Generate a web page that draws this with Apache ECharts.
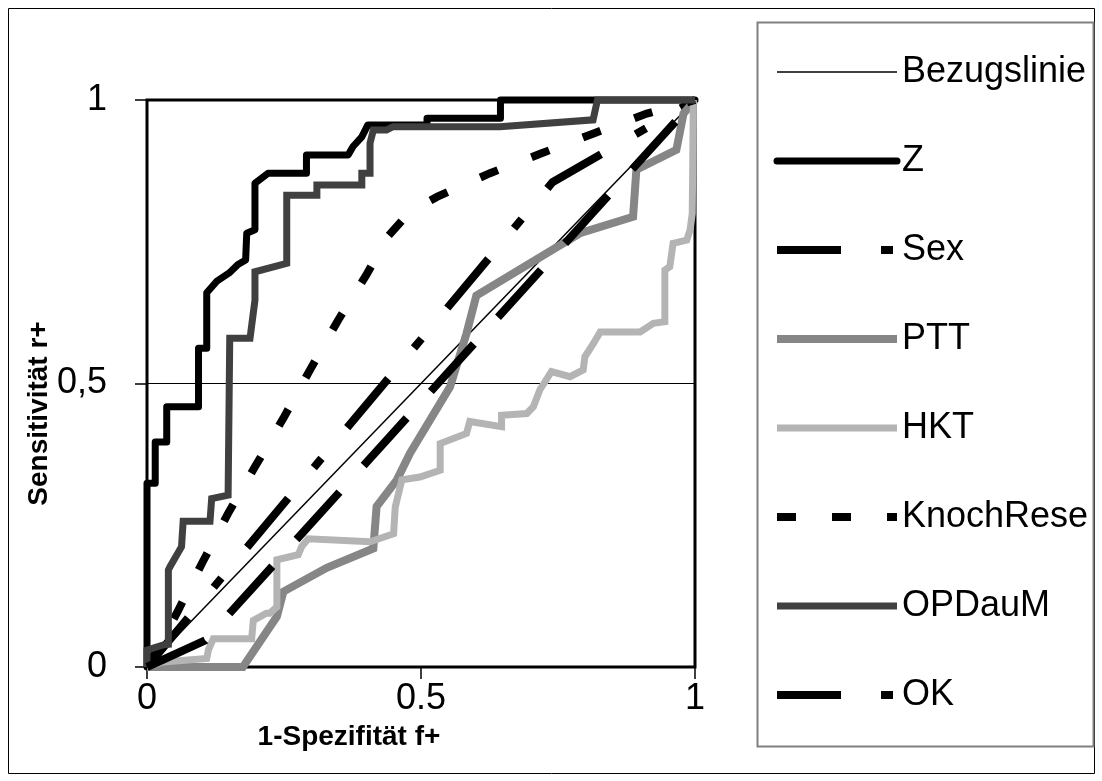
<!DOCTYPE html>
<html><head><meta charset="utf-8">
<script src="https://cdn.jsdelivr.net/npm/echarts@6/dist/echarts.min.js"></script>
<style>html,body{margin:0;padding:0;background:#fff}#c{width:1102px;height:781px}</style>
</head><body><div id="c"></div>
<script>
// ---- data ----
const xTickLabels = ['0', '0.5', '1'];
const yTickLabels = ['0', '0,5', '1'];
const seriesNames = ['Bezugslinie', 'Z', 'Sex', 'PTT', 'HKT', 'KnochRese', 'OPDauM', 'OK'];

const refX = [0, 1];
const refY = [0, 1];

const zX = [0, 0, 0.015, 0.015, 0.036, 0.036, 0.094, 0.094, 0.109, 0.109, 0.127, 0.15, 0.166, 0.18, 0.182, 0.197, 0.197, 0.221, 0.291, 0.291, 0.367, 0.376, 0.392, 0.403, 0.511, 0.511, 0.645, 0.645, 1];
const zY = [0, 0.324, 0.324, 0.397, 0.397, 0.459, 0.459, 0.562, 0.562, 0.66, 0.68, 0.695, 0.71, 0.718, 0.765, 0.771, 0.853, 0.871, 0.871, 0.903, 0.903, 0.918, 0.935, 0.956, 0.956, 0.968, 0.968, 1, 1];

const sexX = [0, 0.74, 1];
const sexY = [0, 0.855, 1];

const pttX = [0, 0.175, 0.237, 0.249, 0.328, 0.413, 0.419, 0.456, 0.48, 0.553, 0.583, 0.601, 0.79, 0.887, 0.893, 0.966, 0.979, 1];
const pttY = [0, 0, 0.089, 0.133, 0.175, 0.209, 0.283, 0.33, 0.377, 0.494, 0.588, 0.655, 0.765, 0.794, 0.877, 0.912, 0.976, 1];

const hktX = [0, 0.03, 0.109, 0.112, 0.121, 0.191, 0.194, 0.218, 0.224, 0.237, 0.237, 0.276, 0.282, 0.294, 0.407, 0.45, 0.453, 0.465, 0.498, 0.535, 0.535, 0.583, 0.589, 0.647, 0.647, 0.693, 0.705, 0.717, 0.738, 0.772, 0.796, 0.799, 0.815, 0.827, 0.9, 0.924, 0.945, 0.945, 0.954, 0.96, 0.985, 0.991, 0.995, 0.997, 1];
const hktY = [0, 0.009, 0.015, 0.03, 0.05, 0.05, 0.082, 0.095, 0.095, 0.106, 0.189, 0.198, 0.212, 0.226, 0.221, 0.235, 0.282, 0.33, 0.335, 0.347, 0.394, 0.412, 0.433, 0.424, 0.444, 0.447, 0.459, 0.489, 0.521, 0.512, 0.524, 0.547, 0.571, 0.591, 0.591, 0.606, 0.609, 0.7, 0.706, 0.747, 0.753, 0.771, 0.8, 1, 1];

const knX = [0, 0.03, 0.057, 0.102, 0.148, 0.197, 0.249, 0.298, 0.349, 0.4, 0.44, 0.48, 0.529, 0.626, 0.72, 0.815, 0.912, 1];
const knY = [0, 0.05, 0.1, 0.186, 0.271, 0.353, 0.439, 0.525, 0.612, 0.691, 0.76, 0.803, 0.829, 0.871, 0.906, 0.941, 0.976, 1];

const opX = [0, 0, 0.03, 0.039, 0.039, 0.042, 0.063, 0.066, 0.115, 0.118, 0.148, 0.151, 0.151, 0.188, 0.197, 0.197, 0.255, 0.255, 0.31, 0.31, 0.392, 0.392, 0.407, 0.407, 0.413, 0.437, 0.449, 0.644, 0.814, 0.822, 1];
const opY = [0, 0.03, 0.039, 0.04, 0.171, 0.177, 0.212, 0.257, 0.257, 0.297, 0.303, 0.303, 0.58, 0.58, 0.647, 0.697, 0.712, 0.832, 0.832, 0.85, 0.85, 0.871, 0.871, 0.924, 0.947, 0.947, 0.953, 0.953, 0.965, 1, 1];

const okX = [0, 0.106, 1];
const okY = [0, 0.047, 1];

// ---- chart ----
const pairs = (xs, ys) => xs.map((x, i) => [x, ys[i]]);
const FONT = '"Liberation Sans", Arial, sans-serif';
const dashDot = [64, 40, 12, 40];

function lineSeries(name, xs, ys, ls) {
  return {
    name, type: 'line', data: pairs(xs, ys), symbol: 'none', showSymbol: false,
    clip: false, silent: true,
    lineStyle: Object.assign({ color: '#000', width: 8, cap: 'butt', join: 'miter' }, ls),
    itemStyle: { color: ls.color || '#000' }
  };
}

const chart = echarts.init(document.getElementById('c'), null, { renderer: 'canvas' });
chart.setOption({
  animation: false,
  backgroundColor: '#fff',
  graphic: [
    { type: 'rect', z: -10, shape: { x: 8.5, y: 8.5, width: 1086, height: 765 }, style: { fill: '#fff', stroke: '#000', lineWidth: 1 } },
    { type: 'rect', z: -5, shape: { x: 757.5, y: 22.5, width: 336, height: 724 }, style: { fill: '#fff', stroke: '#808080', lineWidth: 2 } }
  ],
  grid: { left: 147, top: 100, width: 548, height: 567, show: true, borderColor: '#000', borderWidth: 3, backgroundColor: '#fff', containLabel: false },
  xAxis: {
    type: 'value', min: 0, max: 1, interval: 0.5,
    axisLine: { show: false },
    axisTick: { show: true, length: 12, lineStyle: { color: '#000', width: 1.5 } },
    splitLine: { show: false },
    axisLabel: { color: '#000', fontSize: 36, fontFamily: FONT, margin: 14,
      formatter: (v) => xTickLabels[Math.round(v * 2)] },
    name: '1-Spezifität f+', nameLocation: 'middle', nameGap: 56,
    nameTextStyle: { color: '#000', fontSize: 28, fontWeight: 'bold', fontFamily: FONT, padding: [0, 144, 0, 0] }
  },
  yAxis: {
    type: 'value', min: 0, max: 1, interval: 0.5,
    axisLine: { show: false },
    axisTick: { show: true, length: 12, lineStyle: { color: '#000', width: 1.5 } },
    splitLine: { show: true, lineStyle: { color: '#000', width: 1 } },
    axisLabel: { color: '#000', fontSize: 36, fontFamily: FONT, margin: 40,
      formatter: (v) => yTickLabels[Math.round(v * 2)] },
    name: 'Sensitivität r+', nameLocation: 'middle', nameGap: 93, nameRotate: 90,
    nameTextStyle: { color: '#000', fontSize: 28, fontWeight: 'bold', fontFamily: FONT, padding: [0, 60, 0, 0] }
  },
  legend: {
    orient: 'vertical', left: 773, top: 52, padding: 0,
    itemWidth: 120, itemHeight: 10, itemGap: 49,
    itemStyle: { opacity: 0 },
    lineStyle: { width: 'inherit' },
    textStyle: { color: '#000', fontSize: 36, lineHeight: 40, fontFamily: FONT },
    data: seriesNames.map(n => n === 'OK' ? { name: n, lineStyle: { type: dashDot } } : { name: n })
  },
  series: [
    lineSeries('Bezugslinie', refX, refY, { width: 1.5 }),
    lineSeries('Z', zX, zY, { width: 7, cap: 'round', join: 'round' }),
    lineSeries('Sex', sexX, sexY, { width: 8, type: dashDot }),
    lineSeries('PTT', pttX, pttY, { color: '#868686', width: 8 }),
    lineSeries('HKT', hktX, hktY, { color: '#b4b4b4', width: 7 }),
    lineSeries('KnochRese', knX, knY, { width: 8, type: [19, 36] }),
    lineSeries('OPDauM', opX, opY, { color: '#404040', width: 7 }),
    lineSeries('OK', okX, okY, { width: 8, type: [64, 36] })
  ]
});
</script></body></html>
